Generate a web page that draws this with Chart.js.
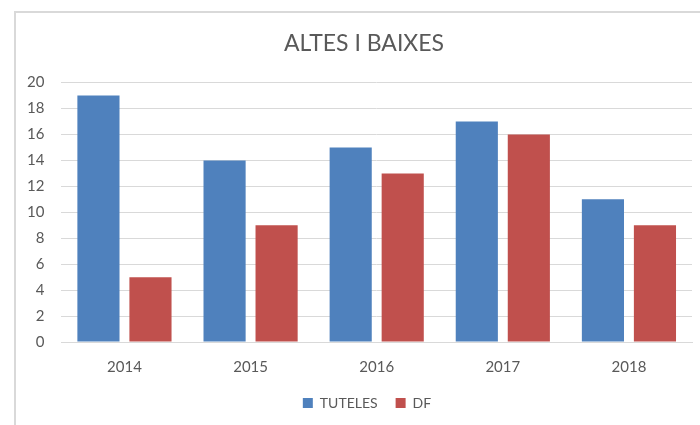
<!DOCTYPE html>
<html>
<head>
<meta charset="utf-8">
<script src="https://cdn.jsdelivr.net/npm/chart.js@4.4.0/dist/chart.umd.min.js"></script>
<style>
  body { margin: 0; background: #fff; }
  #wrap { position: relative; width: 700px; height: 425px; overflow: hidden; }
  #frame { position: absolute; left: 14px; top: 11px; width: 720px; height: 440px;
           border: 2px solid #d9d9d9; pointer-events: none; }
  canvas { position: absolute; left: 0; top: 0; }
</style>
</head>
<body>
<div id="wrap">
  <canvas id="grafico" width="700" height="425"></canvas>
  <div id="frame"></div>
</div>
<script>
// Dades del gràfic
const anys = ['2014', '2015', '2016', '2017', '2018'];
const tuteles = [19, 14, 15, 17, 11];
const df = [5, 9, 13, 16, 9];

const colorTexte = '#595959';
const colorGraella = '#d9d9d9';

// Acosta la llegenda a l'eix i centra títol i llegenda com a l'original
const retallLlegenda = 15;
const pujadaLlegenda = 14;
const ajustos = {
  id: 'ajustos',
  beforeLayout(chart) {
    const lg = chart.legend;
    if (lg && !lg._ajustat) {
      const fitOriginal = lg.fit;
      lg.fit = function () {
        fitOriginal.call(this);
        this.height -= retallLlegenda;
      };
      lg._ajustat = true;
    }
  },
  afterLayout(chart) {
    const lg = chart.legend;
    lg.top -= pujadaLlegenda;
    lg.height += pujadaLlegenda + 10;
    lg.left += 16;
    lg.right += 16;
    chart.titleBlock.left += 13;
    chart.titleBlock.right += 13;
  }
};

const ctx = document.getElementById('grafico').getContext('2d');
new Chart(ctx, {
  type: 'bar',
  data: {
    labels: anys,
    datasets: [{
      label: 'TUTELES',
      data: tuteles,
      backgroundColor: '#4f81bd',
      categoryPercentage: 0.825,
      barPercentage: 0.81
    }, {
      label: 'DF',
      data: df,
      backgroundColor: '#c0504d',
      categoryPercentage: 0.825,
      barPercentage: 0.81
    }]
  },
  options: {
    responsive: false,
    animation: false,
    layout: {
      padding: { left: 10, right: 8, top: 20, bottom: 6 }
    },
    scales: {
      y: {
        min: 0,
        max: 20,
        ticks: {
          stepSize: 2,
          color: colorTexte,
          padding: 17,
          font: { family: 'Lato', size: 15 }
        },
        grid: { color: colorGraella, lineWidth: 1, drawTicks: false },
        border: { display: false }
      },
      x: {
        ticks: {
          color: colorTexte,
          padding: 16,
          font: { family: 'Lato', size: 15 }
        },
        grid: { display: false, drawTicks: false },
        border: { color: colorGraella, width: 1 }
      }
    },
    plugins: {
      title: {
        display: true,
        text: 'ALTES I BAIXES',
        color: colorTexte,
        font: { family: 'Lato', size: 23, weight: 'normal' },
        padding: { top: 10, bottom: 25 }
      },
      legend: {
        position: 'bottom',
        labels: {
          color: colorTexte,
          boxWidth: 10,
          boxHeight: 10,
          padding: 18,
          font: { family: 'Lato', size: 14 }
        }
      },
      tooltip: { enabled: false }
    }
  },
  plugins: [ajustos]
});
</script>
</body>
</html>
